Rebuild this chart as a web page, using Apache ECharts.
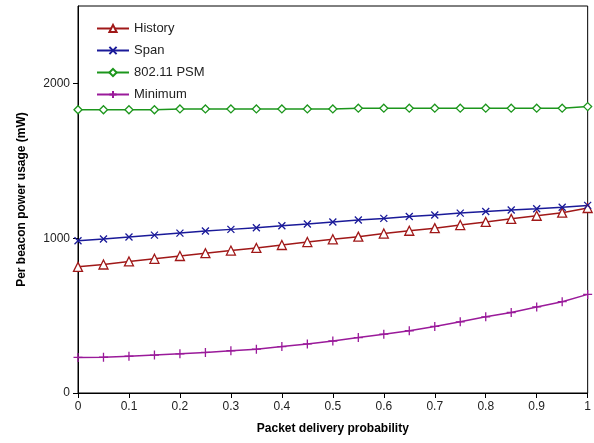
<!DOCTYPE html>
<html>
<head>
<meta charset="utf-8">
<script src="https://cdn.jsdelivr.net/npm/echarts@6/dist/echarts.min.js"></script>
<style>
  html, body { margin: 0; padding: 0; background: #fff; }
  #chart { width: 594px; height: 443px; }
</style>
</head>
<body>
<div id="chart"></div>
<script>
// packet delivery probability, step 0.05
var probs = [0, 0.05, 0.1, 0.15, 0.2, 0.25, 0.3, 0.35, 0.4, 0.45, 0.5,
             0.55, 0.6, 0.65, 0.7, 0.75, 0.8, 0.85, 0.9, 0.95, 1];
var historyVals = [815, 830, 850, 867, 885, 903, 920, 937, 956, 975, 993,
                   1010, 1030, 1048, 1065, 1085, 1105, 1125, 1145, 1165, 1195];
var spanVals = [983, 995, 1008, 1020, 1033, 1046, 1057, 1068, 1080, 1092, 1105,
                1118, 1128, 1140, 1150, 1162, 1172, 1182, 1190, 1200, 1212];
var psmVals = [1830, 1830, 1830, 1830, 1835, 1835, 1835, 1835, 1835, 1835, 1835,
               1840, 1840, 1840, 1840, 1840, 1840, 1840, 1840, 1840, 1850];
var minimumVals = [230, 231, 238, 245, 253, 262, 273, 283, 300, 317, 336,
                   358, 380, 402, 430, 460, 492, 520, 556, 590, 637];
var yTicks = [0, 1000, 2000];

var chart = echarts.init(document.getElementById('chart'));

function pairs(vals) {
    return probs.map(function (p, i) { return [p, vals[i]]; });
}

var crossX = 'path://M0,0L10,10M10,0L0,10';
var crossPlus = 'path://M5,0L5,10M0,5L10,5';

function mkSeries(name, vals, color, symbol, size) {
    return {
        name: name,
        type: 'line',
        data: pairs(vals),
        symbol: symbol,
        symbolSize: size,
        showAllSymbol: true,
        lineStyle: { color: color, width: 1.5 },
        itemStyle: { color: '#fff', borderColor: color, borderWidth: 1.3 },
        emphasis: { disabled: true },
        animation: false
    };
}

var font = 'Liberation Sans, Arial';

var option = {
    backgroundColor: '#fff',
    animation: false,
    grid: {
        left: 78, right: 3, top: 6, bottom: 50,
        show: true, borderColor: '#000', borderWidth: 1
    },
    legend: {
        orient: 'vertical',
        left: 91, top: 17,
        itemGap: 9,
        itemWidth: 32, itemHeight: 9,
        textStyle: { fontFamily: font, fontSize: 13, color: '#222' },
        data: ['History', 'Span', '802.11 PSM', 'Minimum']
    },
    xAxis: {
        type: 'value',
        min: 0, max: 1, interval: 0.1,
        name: 'Packet delivery probability',
        nameLocation: 'middle',
        nameGap: 30,
        nameTextStyle: { fontFamily: font, fontSize: 12, fontWeight: 'bold', color: '#000' },
        axisLine: { lineStyle: { color: '#000', width: 1 } },
        axisTick: { show: true, length: 5, inside: false, lineStyle: { color: '#000' } },
        axisLabel: {
            fontFamily: font, fontSize: 12, color: '#222', margin: 8,
            formatter: function (v) { return String(Math.round(v * 10) / 10); }
        },
        splitLine: { show: false }
    },
    yAxis: {
        type: 'value',
        min: yTicks[0], max: 2500, interval: 1000,
        name: 'Per beacon power usage (mW)',
        nameLocation: 'middle',
        nameGap: 50,
        nameTextStyle: { fontFamily: font, fontSize: 12, fontWeight: 'bold', color: '#000' },
        axisLine: { show: true, lineStyle: { color: '#000', width: 1 } },
        axisTick: { show: true, length: 5, lineStyle: { color: '#000' } },
        axisLabel: {
            fontFamily: font, fontSize: 12, color: '#222', margin: 8,
            showMaxLabel: false,
            formatter: function (v) { return String(v); }
        },
        splitLine: { show: false }
    },
    series: [
        mkSeries('History', historyVals, '#a01818', 'triangle', 9),
        mkSeries('Span', spanVals, '#1a1a99', crossX, 7),
        mkSeries('802.11 PSM', psmVals, '#1c961c', 'diamond', 8),
        mkSeries('Minimum', minimumVals, '#9a1a9a', crossPlus, 9)
    ]
};

chart.setOption(option);
</script>
</body>
</html>
